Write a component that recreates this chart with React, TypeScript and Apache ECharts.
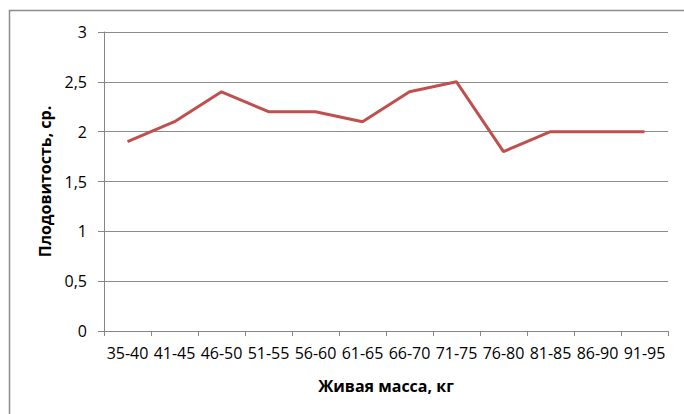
import React, { useEffect, useRef } from "react";
import * as echarts from "echarts";

const categories = ["35-40", "41-45", "46-50", "51-55", "56-60", "61-65", "66-70", "71-75", "76-80", "81-85", "86-90", "91-95"];
const fertility = [1.9, 2.1, 2.4, 2.2, 2.2, 2.1, 2.4, 2.5, 1.8, 2.0, 2.0, 2.0];
const yTicks = [0, 0.5, 1, 1.5, 2, 2.5, 3];

export default function App() {
  const ref = useRef<HTMLDivElement>(null);
  useEffect(() => {
    const chart = echarts.init(ref.current!, null, { renderer: "svg" });
    const font = "Open Sans, Liberation Sans, sans-serif";
    chart.setOption({
      animation: false,
      backgroundColor: "#ffffff",
      grid: { left: 104, top: 32, right: 16, bottom: 83 },
      graphic: [
        {
          type: "rect",
          shape: { x: 9.5, y: 10.5, width: 700, height: 500 },
          style: { fill: "none", stroke: "#8c8c8c", lineWidth: 1.5 },
          silent: true,
        },
      ],
      xAxis: {
        type: "category",
        data: categories,
        boundaryGap: true,
        name: "Живая масса, кг",
        nameLocation: "middle",
        nameGap: 47,
        nameTextStyle: { fontFamily: font, fontSize: 16, fontWeight: "bold", color: "#000" },
        axisLine: { lineStyle: { color: "#868686", width: 1 } },
        axisTick: { show: true, alignWithLabel: false, length: 5, lineStyle: { color: "#868686" } },
        axisLabel: { fontFamily: font, fontSize: 16, color: "#000", margin: 14, interval: 0 },
      },
      yAxis: {
        type: "value",
        min: 0,
        max: 3,
        interval: 0.5,
        name: "Плодовитость, ср.",
        nameLocation: "middle",
        nameGap: 51,
        nameTextStyle: { fontFamily: font, fontSize: 16, fontWeight: "bold", color: "#000" },
        axisLine: { show: true, lineStyle: { color: "#868686", width: 1 } },
        axisTick: { show: true, length: 6, lineStyle: { color: "#868686" } },
        splitLine: { show: true, lineStyle: { color: "#8c8c8c", width: 1 } },
        axisLabel: {
          fontFamily: font,
          fontSize: 16,
          color: "#000",
          margin: 17,
          formatter: (v: number) => (yTicks.includes(v) ? String(v).replace(".", ",") : ""),
        },
      },
      series: [
        {
          type: "line",
          data: fertility,
          symbol: "none",
          lineStyle: { color: "#C0504D", width: 3 },
          itemStyle: { color: "#C0504D" },
        },
      ],
    });
    return () => chart.dispose();
  }, []);
  return (
    <div
      ref={ref}
      style={{ position: "fixed", left: 0, top: 0, width: 684, height: 414, background: "#fff" }}
    />
  );
}
